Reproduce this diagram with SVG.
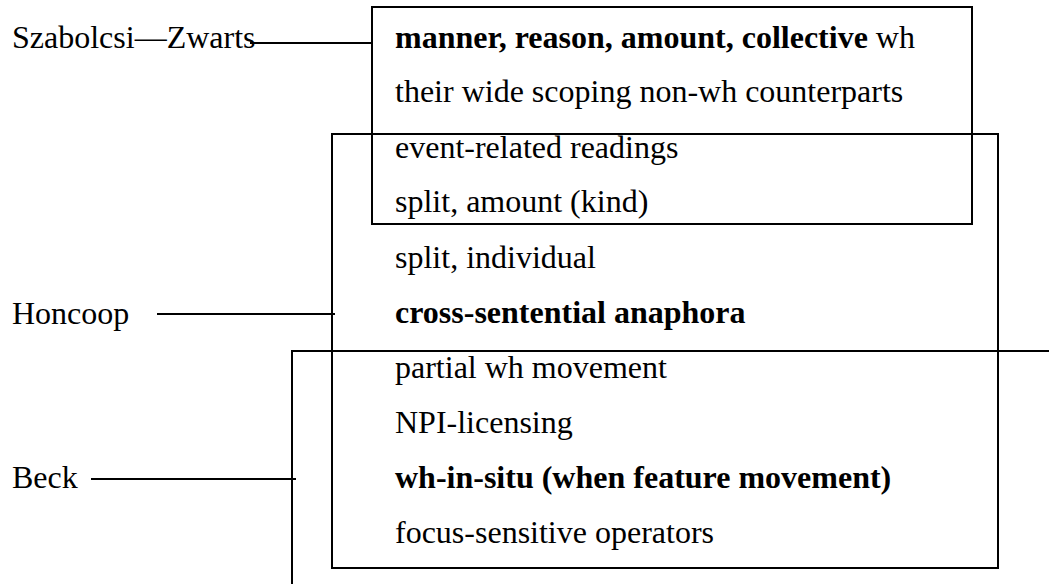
<svg xmlns="http://www.w3.org/2000/svg" width="1049" height="584" viewBox="0 0 1049 584">
<style>
.box{fill:none;stroke:#000;stroke-width:2}
.conn line{stroke:#000;stroke-width:2}
</style>
<rect width="1049" height="584" fill="#fff"/>
<g font-family="Liberation Serif, Times New Roman, DejaVu Serif, serif" font-size="32" fill="#000">
<g id="label-sz"><text x="12" y="48">Szabolcsi—Zwarts</text></g>
<g id="label-honcoop"><text x="12" y="324">Honcoop</text></g>
<g id="label-beck"><text x="12" y="488">Beck</text></g>
</g>
<g id="box-beck"><path class="box" d="M292,584 V351 H1049"/></g>
<g id="box-honcoop"><rect class="box" x="332" y="134" width="666" height="434"/></g>
<g id="box-sz"><rect class="box" x="372" y="7" width="600" height="217"/></g>
<g id="texts" font-family="Liberation Serif, Times New Roman, DejaVu Serif, serif" font-size="32" fill="#000">
<text x="395" y="48"><tspan font-weight="bold">manner, reason, amount, collective</tspan> wh</text>
<text x="395" y="102">their wide scoping non-wh counterparts</text>
<text x="395" y="158">event-related readings</text>
<text x="395" y="212">split, amount (kind)</text>
<text x="395" y="268">split, individual</text>
<text x="395" y="323" font-weight="bold">cross-sentential anaphora</text>
<text x="395" y="378">partial wh movement</text>
<text x="395" y="433">NPI-licensing</text>
<text x="395" y="488" font-weight="bold">wh-in-situ (when feature movement)</text>
<text x="395" y="543">focus-sensitive operators</text>
</g>
<g id="connectors" class="conn">
<line x1="250" y1="43" x2="372" y2="43"/>
<line x1="157" y1="314" x2="335" y2="314"/>
<line x1="91" y1="479" x2="296" y2="479"/>
</g>
</svg>
